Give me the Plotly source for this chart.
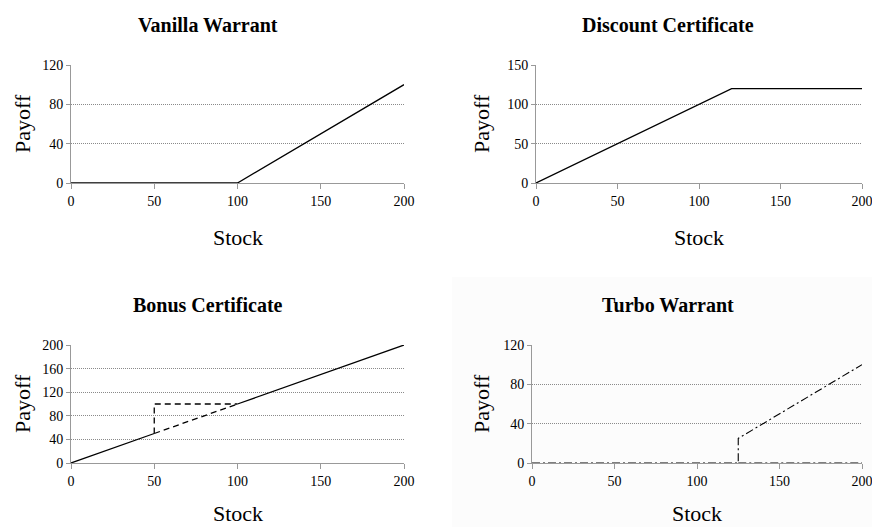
import plotly.graph_objects as go

# ---- data ----
vanilla_x = [0, 100, 200]
vanilla_y = [0, 0, 100]

discount_x = [0, 120, 200]
discount_y = [0, 120, 120]

bonus_solid1_x = [0, 50]
bonus_solid1_y = [0, 50]
bonus_dash_diag_x = [50, 100]
bonus_dash_diag_y = [50, 100]
bonus_dash_box_x = [50, 50, 100]
bonus_dash_box_y = [50, 100, 100]
bonus_solid2_x = [100, 200]
bonus_solid2_y = [100, 200]

turbo_x = [0, 125, 125, 200]
turbo_y = [0, 0, 25, 100]
turbo_flat_x = [125, 200]
turbo_flat_y = [0, 0]

titles = ["Vanilla Warrant", "Discount Certificate", "Bonus Certificate", "Turbo Warrant"]
x_ticks = [0, 50, 100, 150, 200]
y_ticks_vanilla = [0, 40, 80, 120]
y_ticks_discount = [0, 50, 100, 150]
y_ticks_bonus = [0, 40, 80, 120, 160, 200]
y_ticks_turbo = [0, 40, 80, 120]

W, H = 872, 527
FONT = "Liberation Serif"

def fx(px):
    return px / W

def fy(py):
    return 1 - py / H

panels = [
    # (xaxis id, yaxis id, left, right, top, bottom, yticks, title_x, title_y, ytitle_x)
    ("x", "y", 71, 404, 65, 183, y_ticks_vanilla, 208, 25, 22),
    ("x2", "y2", 536, 862, 65, 183, y_ticks_discount, 668, 25, 481),
    ("x3", "y3", 71, 404, 345, 463, y_ticks_bonus, 208, 305, 22),
    ("x4", "y4", 532, 862, 345, 463, y_ticks_turbo, 668, 305, 481),
]

fig = go.Figure()

def add_line(xs, ys, ax, dash="solid", width=1.3):
    fig.add_trace(go.Scatter(x=xs, y=ys, mode="lines", xaxis=ax[0], yaxis=ax[1],
                             line=dict(color="black", width=width, dash=dash),
                             showlegend=False, hoverinfo="skip", cliponaxis=False))

add_line(vanilla_x, vanilla_y, ("x", "y"))
add_line(discount_x, discount_y, ("x2", "y2"))
add_line(bonus_solid1_x, bonus_solid1_y, ("x3", "y3"))
add_line(bonus_dash_diag_x, bonus_dash_diag_y, ("x3", "y3"), dash="6px,4px")
add_line(bonus_dash_box_x, bonus_dash_box_y, ("x3", "y3"), dash="6px,4px")
add_line(bonus_solid2_x, bonus_solid2_y, ("x3", "y3"))
add_line(turbo_x, turbo_y, ("x4", "y4"), dash="8px,3px,2px,3px", width=1.1)
add_line(turbo_flat_x, turbo_flat_y, ("x4", "y4"), dash="8px,3px,2px,3px", width=1.1)

annotations = []
layout = dict(width=W, height=H, margin=dict(l=0, r=0, t=0, b=0, autoexpand=False),
              paper_bgcolor="white", plot_bgcolor="rgba(0,0,0,0)", showlegend=False,
              font=dict(family=FONT, color="black"))

for i, (xa, ya, l, r, t, b, yt, tx, ty, ytx) in enumerate(panels):
    xkey = "xaxis" if xa == "x" else "xaxis" + xa[1:]
    ykey = "yaxis" if ya == "y" else "yaxis" + ya[1:]
    layout[xkey] = dict(domain=[fx(l), fx(r)], range=[0, 200], anchor=ya,
                        tickvals=x_ticks, ticks="outside", ticklen=5, tickcolor="#999999",
                        showline=True, linecolor="#999999", linewidth=1,
                        showgrid=False, zeroline=False, ticklabeloverflow="allow",
                        tickfont=dict(family=FONT, size=14, color="black"))
    layout[ykey] = dict(domain=[fy(b), fy(t)], range=[0, yt[-1]], anchor=xa,
                        tickvals=yt, ticks="outside", ticklen=4, tickcolor="#999999",
                        showline=True, linecolor="#999999", linewidth=1,
                        showgrid=True, gridcolor="#8a8a8a", griddash="1px,1px", gridwidth=1,
                        zeroline=False, ticklabeloverflow="allow",
                        tickfont=dict(family=FONT, size=14, color="black"))
    annotations.append(dict(text="<b>" + titles[i] + "</b>", x=fx(tx), y=fy(ty),
                            xref="paper", yref="paper", showarrow=False,
                            xanchor="center", yanchor="middle",
                            font=dict(family=FONT, size=20, color="black")))
    if b > 300:
        stock_y, stock_anchor = 0, "bottom"
    else:
        stock_y, stock_anchor = fy(b + 54), "middle"
    annotations.append(dict(text="Stock", x=fx((l + r) / 2), y=stock_y,
                            xref="paper", yref="paper", showarrow=False,
                            xanchor="center", yanchor=stock_anchor, borderpad=0,
                            font=dict(family=FONT, size=22, color="black")))
    annotations.append(dict(text="Payoff", x=fx(ytx), y=fy((t + b) / 2),
                            xref="paper", yref="paper", showarrow=False, textangle=-90,
                            xanchor="center", yanchor="middle",
                            font=dict(family=FONT, size=22, color="black")))

layout["annotations"] = annotations
layout["shapes"] = [dict(type="rect", xref="paper", yref="paper",
                         x0=fx(452), x1=1, y0=0, y1=fy(277),
                         fillcolor="#fcfcfc", line=dict(width=0), layer="below")]
fig.update_layout(**layout)
fig.write_html("out.html", config={"displayModeBar": False},
               post_script="document.body.style.margin='0';")
